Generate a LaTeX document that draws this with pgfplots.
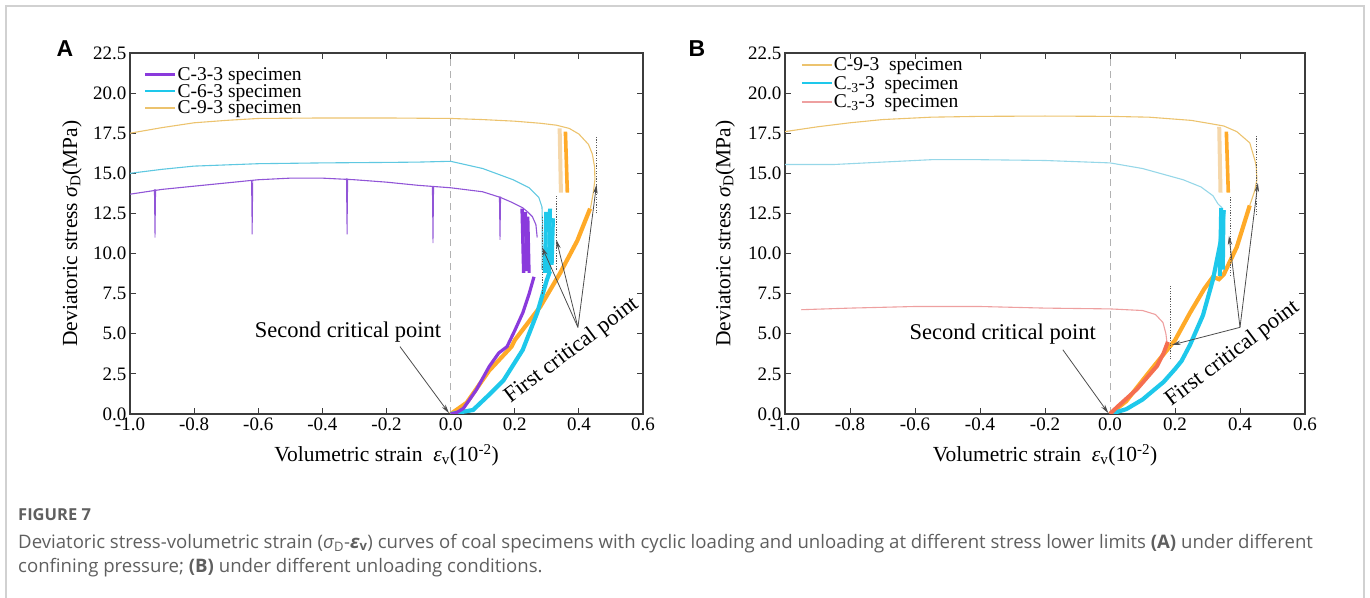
\documentclass[border=0pt]{standalone}
\usepackage{pgfplots}
\pgfplotsset{compat=1.18}
\usetikzlibrary{arrows.meta}
\usepackage{fontspec}
\setmainfont{Liberation Serif}
\newfontfamily\labfont{Liberation Sans}
\newfontfamily\capfont{Open Sans}
\definecolor{cpurple}{RGB}{138,58,220}
\definecolor{cpurplel}{RGB}{145,85,215}
\definecolor{ccyan}{RGB}{30,200,235}
\definecolor{ccyanl}{RGB}{95,200,225}
\definecolor{ccyanll}{RGB}{150,215,232}
\definecolor{corange}{RGB}{255,170,40}
\definecolor{corangel}{RGB}{236,195,110}
\definecolor{corangef}{RGB}{245,215,170}
\definecolor{cred}{RGB}{245,110,80}
\definecolor{cpink}{RGB}{238,160,160}
\definecolor{axgray}{RGB}{60,60,60}
\definecolor{capgray}{RGB}{95,95,95}
\tikzset{annot/.style={font=\fontsize{22.5}{24}\selectfont}}
\pgfplotsset{
  myaxis/.style={
    scale only axis, height=361pt,
    xmin=-1, xmax=0.6, ymin=0, ymax=22.5,
    xtick={-1,-0.8,-0.6,-0.4,-0.2,0,0.2,0.4,0.6},
    ytick={0,2.5,5,7.5,10,12.5,15,17.5,20,22.5},
    tick align=inside, major tick length=6pt,
    axis line style={draw=axgray, line width=1.2pt},
    every tick/.style={axgray, line width=1pt},
    /pgf/number format/assume math mode=true,
    /pgf/number format/fixed, /pgf/number format/fixed zerofill, /pgf/number format/precision=1,
    tick label style={font=\fontsize{19}{21}\selectfont},
    label style={font=\fontsize{21.5}{24}\selectfont},
    xlabel={Volumetric strain\ \ {\itshape ε}\textsubscript{v}(10\textsuperscript{-2})},
    ylabel={Deviatoric stress {\itshape σ}\textsubscript{D}(MPa)},
    xlabel style={at={(axis description cs:0.5,-0.114)}, anchor=center},
    legend cell align=left,
    legend image code/.code={\draw[#1] (0pt,0pt) -- (30pt,0pt);},
    clip=true,
  },
  dotl/.style={black!65, line width=0.9pt, dash pattern=on 1.3pt off 1.3pt},
  arr/.style={black!70, line width=0.8pt, -{Stealth[length=9pt,width=4.5pt]}},
  zl/.style={black!30, line width=0.8pt, dash pattern=on 7pt off 5pt},
}
\begin{document}
\begin{tikzpicture}[x=1pt,y=1pt]
\useasboundingbox (0,0) rectangle (1370,597);
\draw[black!18, line width=1.3pt] (6,-10) -- (6,591) -- (1364,591) -- (1364,-10);
\node[font=\labfont\bfseries\fontsize{23}{23}\selectfont, anchor=center] at (65,548) {A};
\node[font=\labfont\bfseries\fontsize{23}{23}\selectfont, anchor=center] at (697,548) {B};
\node[font=\capfont\bfseries\fontsize{16.5}{18}\selectfont, text=capgray, anchor=base west, inner sep=0pt] at (18,77) {FIGURE 7};
\node[font=\capfont\fontsize{18.6}{20}\selectfont, text=capgray, anchor=base west, inner sep=0pt] at (18,49) {Deviatoric stress-volumetric strain ({\itshape σ}\textsubscript{D}-{\bfseries\itshape ε}\textsubscript{\bfseries v}) curves of coal specimens with cyclic loading and unloading at different stress lower limits {\bfseries(A)} under different};
\node[font=\capfont\fontsize{18.6}{20}\selectfont, text=capgray, anchor=base west, inner sep=0pt] at (18,25) {confining pressure; {\bfseries(B)} under different unloading conditions.};

% ---------------- Panel A ----------------
\begin{axis}[myaxis, at={(130pt,183pt)}, anchor=south west, width=513pt,
  ylabel style={at={(axis description cs:-0.113,0.5)}, anchor=center},
  legend style={at={(axis description cs:0.027,0.964)}, anchor=north west, draw=none, fill=none,
    font=\fontsize{19.5}{19.5}\selectfont, row sep=0.5pt, inner sep=0pt, nodes={inner sep=1pt}},
]
\addlegendimage{cpurple, line width=2.6pt}\addlegendentry{C-3-3 specimen}
\addlegendimage{ccyan, line width=2pt}\addlegendentry{C-6-3 specimen}
\addlegendimage{corangel, line width=2pt}\addlegendentry{C-9-3 specimen}
\addplot[zl, forget plot] coordinates {(0,0) (0,22.5)};
% C-9-3 faint unloading band
\addplot[corangef, line width=4pt, forget plot] coordinates {(0.340,17.8) (0.344,13.8)};
% C-9-3 post-peak
\addplot[corangel, line width=1.1pt, forget plot] coordinates {(0.436,12.8) (0.445,13.8) (0.450,14.6) (0.449,15.4) (0.442,16.2) (0.430,16.8) (0.40,17.45) (0.37,17.8) (0.33,18.0) (0.28,18.12) (0.2,18.25) (0.1,18.35) (0.0,18.42) (-0.2,18.45) (-0.4,18.45) (-0.6,18.42) (-0.7,18.3) (-0.8,18.15) (-0.9,17.85) (-1.0,17.5)};
\addplot[corange, line width=3.6pt, forget plot] coordinates {(0.358,17.6) (0.364,13.8)};
% C-9-3 loading
\addplot[corange, line width=4.2pt, forget plot] coordinates {(0.0,0.0) (0.05,0.7) (0.12,2.7) (0.19,4.2) (0.20,4.6) (0.28,6.7) (0.342,8.8) (0.395,10.8) (0.435,12.8)};
% C-6-3 post-peak
\addplot[ccyanl, line width=1.1pt, forget plot] coordinates {(0.285,9.0) (0.286,12.0) (0.285,12.9) (0.275,13.5) (0.245,14.1) (0.195,14.6) (0.1,15.3) (0.0,15.75) (-0.1,15.7) (-0.2,15.68) (-0.4,15.65) (-0.6,15.6) (-0.8,15.45) (-0.9,15.25) (-1.0,15.0)};
% C-6-3 loops
\addplot[ccyan, line width=4pt, forget plot] coordinates {(0.294,8.8) (0.298,12.6)};
\addplot[ccyan, line width=4pt, forget plot] coordinates {(0.306,8.8) (0.310,12.8)};
\addplot[ccyan, line width=3.5pt, forget plot] coordinates {(0.316,9.3) (0.320,12.2)};
% C-6-3 loading
\addplot[ccyan, line width=4.2pt, forget plot] coordinates {(0.0,0.0) (0.07,0.25) (0.12,1.2) (0.165,2.1) (0.225,4.0) (0.27,6.3) (0.30,8.35) (0.31,8.9)};
% C-3-3 post-peak
\addplot[cpurplel, line width=1.1pt, forget plot] coordinates {(0.27,11.0) (0.266,11.8) (0.255,12.3) (0.24,12.6) (0.225,12.85) (0.19,13.2) (0.155,13.5) (0.1,13.85) (0.0,14.1) (-0.1,14.25) (-0.2,14.45) (-0.3,14.6) (-0.4,14.7) (-0.5,14.7) (-0.6,14.6) (-0.7,14.4) (-0.8,14.2) (-0.9,14.0) (-1.0,13.7)};
% C-3-3 spikes
\addplot[cpurplel, line width=0.9pt, forget plot] coordinates {(-0.924,14.0) (-0.922,11.0) (-0.920,14.0)};
\addplot[cpurplel, line width=0.9pt, forget plot] coordinates {(-0.621,14.55) (-0.619,11.2) (-0.617,14.55)};
\addplot[cpurplel, line width=0.9pt, forget plot] coordinates {(-0.325,14.68) (-0.323,11.2) (-0.321,14.68)};
\addplot[cpurplel, line width=0.9pt, forget plot] coordinates {(-0.057,14.15) (-0.055,10.65) (-0.053,14.15)};
\addplot[cpurplel, line width=0.9pt, forget plot] coordinates {(0.152,13.55) (0.154,10.85) (0.156,13.55)};
% C-3-3 loops
\addplot[cpurple, line width=3.5pt, forget plot] coordinates {(0.223,12.8) (0.228,8.8)};
\addplot[cpurple, line width=3.5pt, forget plot] coordinates {(0.233,12.6) (0.238,8.9)};
\addplot[cpurple, line width=3pt, forget plot] coordinates {(0.241,12.3) (0.245,8.8)};
% C-3-3 loading
\addplot[cpurple, line width=3.2pt, forget plot] coordinates {(0.0,0.0) (0.02,0.1) (0.04,0.35) (0.08,1.5) (0.12,2.95) (0.15,3.8) (0.176,4.2) (0.2,5.2) (0.225,6.3) (0.245,7.5) (0.26,8.55)};
% dotted markers
\addplot[dotl, forget plot] coordinates {(0.285,7.5) (0.285,12.3)};
\addplot[dotl, forget plot] coordinates {(0.33,9.0) (0.33,13.6)};
\addplot[dotl, forget plot] coordinates {(0.455,12.5) (0.455,17.3)};
% arrows
\addplot[arr, forget plot] coordinates {(0.397,5.4) (0.285,10.4)};
\addplot[arr, forget plot] coordinates {(0.397,5.4) (0.33,10.85)};
\addplot[arr, forget plot] coordinates {(0.397,5.4) (0.455,14.3)};
\addplot[arr, forget plot] coordinates {(-0.158,4.2) (-0.005,0.05)};
\node[annot] at (axis cs:-0.32,5.1) {Second critical point};
\node[annot, rotate=37] at (axis cs:0.378,3.95) {First critical point};
\end{axis}

% ---------------- Panel B ----------------
\begin{axis}[myaxis, at={(785pt,183pt)}, anchor=south west, width=520pt,
  ylabel style={at={(axis description cs:-0.115,0.5)}, anchor=center},
  legend style={at={(axis description cs:0.03,0.99)}, anchor=north west, draw=none, fill=none,
    font=\fontsize{19.5}{19.5}\selectfont, row sep=2pt, inner sep=0pt, nodes={inner sep=1pt}},
]
\addlegendimage{corangel, line width=2pt}\addlegendentry{C-9-3\ \ specimen}
\addlegendimage{ccyan, line width=2pt}\addlegendentry{C\textsubscript{-3}-3\ \ specimen}
\addlegendimage{cpink, line width=2pt}\addlegendentry{C\textsubscript{-3}-3\ \ specimen}
\addplot[zl, forget plot] coordinates {(0,0) (0,22.5)};
% C-9-3
\addplot[corangef, line width=4pt, forget plot] coordinates {(0.336,17.9) (0.340,13.8)};
\addplot[corangel, line width=1.1pt, forget plot] coordinates {(0.43,13.0) (0.445,13.9) (0.452,14.6) (0.450,15.4) (0.446,15.8) (0.43,16.9) (0.39,17.6) (0.35,17.95) (0.308,18.1) (0.25,18.3) (0.12,18.5) (0.0,18.55) (-0.2,18.57) (-0.4,18.55) (-0.55,18.5) (-0.7,18.35) (-0.8,18.15) (-0.9,17.9) (-1.0,17.6)};
\addplot[corange, line width=3.6pt, forget plot] coordinates {(0.358,17.6) (0.364,13.8)};
\addplot[corange, line width=4.2pt, forget plot] coordinates {(0.0,0.0) (0.05,0.8) (0.12,2.6) (0.2,4.6) (0.246,6.3) (0.29,7.8) (0.317,8.55) (0.335,8.4) (0.35,8.7) (0.39,10.4) (0.43,13.0)};
% C_-3-3 cyan
\addplot[ccyanll, line width=1.1pt, forget plot] coordinates {(0.345,12.85) (0.332,13.1) (0.317,13.6) (0.28,14.15) (0.225,14.6) (0.1,15.3) (0.0,15.65) (-0.2,15.8) (-0.4,15.85) (-0.55,15.85) (-0.7,15.7) (-0.85,15.55) (-1.0,15.55)};
\addplot[ccyan, line width=4pt, forget plot] coordinates {(0.338,8.6) (0.342,12.85)};
\addplot[ccyan, line width=3.5pt, forget plot] coordinates {(0.348,9.0) (0.350,12.7)};
\addplot[ccyan, line width=4.2pt, forget plot] coordinates {(0.0,0.0) (0.05,0.3) (0.1,0.9) (0.165,2.0) (0.2,2.8) (0.22,3.3) (0.246,4.3) (0.286,6.15) (0.317,8.4) (0.34,10.7) (0.35,12.7)};
% C_-3-3 red
\addplot[cpink, line width=1.1pt, forget plot] coordinates {(0.175,4.5) (0.172,5.0) (0.163,5.7) (0.14,6.2) (0.1,6.45) (0.0,6.55) (-0.2,6.6) (-0.4,6.7) (-0.6,6.7) (-0.8,6.6) (-0.95,6.5)};
\addplot[cred, line width=4pt, forget plot] coordinates {(0.0,0.0) (0.02,0.4) (0.083,1.55) (0.145,3.0) (0.165,3.8) (0.178,4.5)};
% dotted
\addplot[dotl, forget plot] coordinates {(0.187,3.4) (0.187,8.0)};
\addplot[dotl, forget plot] coordinates {(0.37,8.6) (0.37,13.6)};
\addplot[dotl, forget plot] coordinates {(0.452,12.4) (0.452,17.4)};
% arrows
\addplot[arr, forget plot] coordinates {(0.4,5.4) (0.366,11.1)};
\addplot[arr, forget plot] coordinates {(0.4,5.4) (0.455,14.4)};
\addplot[arr, forget plot] coordinates {(0.4,5.4) (0.19,4.3)};
\addplot[arr, forget plot] coordinates {(-0.145,4.0) (-0.005,0.05)};
\node[annot] at (axis cs:-0.33,4.95) {Second critical point};
\node[annot, rotate=37] at (axis cs:0.377,3.75) {First critical point};
\end{axis}
\end{tikzpicture}
\end{document}
